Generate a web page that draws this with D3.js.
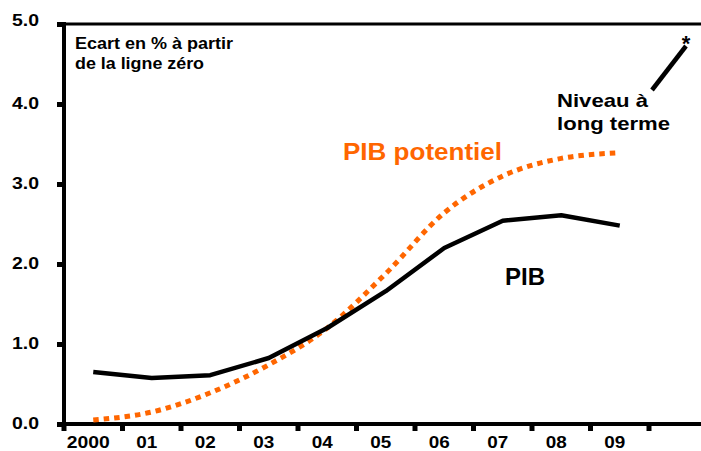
<!DOCTYPE html>
<html>
<head>
<meta charset="utf-8">
<script src="https://cdn.jsdelivr.net/npm/d3@7"></script>
<style>
  html, body { margin: 0; padding: 0; background: #fff; }
  svg { display: block; }
  text { font-family: "Liberation Sans", Arial, Helvetica, sans-serif; font-weight: bold; }
</style>
</head>
<body>
<script>
// ---- data ----
const years = ["2000", "01", "02", "03", "04", "05", "06", "07", "08", "09"];
const pib = [0.65, 0.575, 0.61, 0.825, 1.2, 1.66, 2.2, 2.54, 2.61, 2.48];
const pibPotentiel = [0.05, 0.15, 0.39, 0.74, 1.2, 1.88, 2.64, 3.1, 3.32, 3.39];
const yTicks = [0, 1, 2, 3, 4, 5];
const yTickLabels = ["0.0", "1.0", "2.0", "3.0", "4.0", "5.0"];

// ---- layout ----
const W = 701, H = 451;
const plotLeft = 64, plotTop = 24, plotBottom = 424;
const step = 58.5;
const orange = "#ff6600";

const svg = d3.select("body").append("svg").attr("width", W).attr("height", H);
svg.append("rect").attr("width", W).attr("height", H).attr("fill", "#fff");

const xDomain = years.concat([""]);
const x = d3.scaleBand().domain(xDomain).range([plotLeft, plotLeft + step * xDomain.length]).padding(0);
const y = d3.scaleLinear().domain([0, 5]).range([plotBottom, plotTop]);

// top border
svg.append("line").attr("x1", plotLeft - 2).attr("x2", W).attr("y1", y(5)).attr("y2", y(5))
  .attr("stroke", "#000").attr("stroke-width", 3);

// y axis
const yAxis = d3.axisLeft(y).tickValues(yTicks).tickSize(7)
  .tickFormat((d, i) => yTickLabels[i]);
const gy = svg.append("g").attr("transform", `translate(${plotLeft},0)`).call(yAxis);
gy.select(".domain").remove();
gy.selectAll(".tick line").attr("stroke", "#000").attr("stroke-width", 5);
gy.selectAll(".tick text")
  .attr("x", -25).attr("dy", null).attr("y", d => d === 5 ? 1 : 4)
  .attr("fill", "#000").attr("font-size", 16)
  .attr("font-family", "Liberation Sans, Arial, sans-serif").attr("font-weight", "bold")
  .attr("text-anchor", "end")
  .attr("textLength", 27).attr("lengthAdjust", "spacingAndGlyphs");
svg.append("line").attr("x1", plotLeft).attr("x2", plotLeft).attr("y1", plotTop - 2).attr("y2", plotBottom + 2)
  .attr("stroke", "#000").attr("stroke-width", 4);

// x axis: labels at band centres
const xAxis = d3.axisBottom(x).tickValues(years).tickSize(0);
const gx = svg.append("g").attr("transform", `translate(0,${plotBottom})`).call(xAxis);
gx.select(".domain").remove();
gx.selectAll(".tick text")
  .attr("y", 24).attr("dy", null).attr("dx", -5)
  .attr("fill", "#000").attr("font-size", 16)
  .attr("font-family", "Liberation Sans, Arial, sans-serif").attr("font-weight", "bold")
  .attr("textLength", d => d.length === 4 ? 43 : 21).attr("lengthAdjust", "spacingAndGlyphs");
// x tick marks at band boundaries
svg.append("g").selectAll("line").data(xDomain).join("line")
  .attr("x1", d => x(d)).attr("x2", d => x(d))
  .attr("y1", plotBottom).attr("y2", plotBottom + 7)
  .attr("stroke", "#000").attr("stroke-width", 5);
svg.append("line").attr("x1", plotLeft - 2).attr("x2", W).attr("y1", plotBottom).attr("y2", plotBottom)
  .attr("stroke", "#000").attr("stroke-width", 4);

const cx = d => x(d) + x.bandwidth() / 2;

// PIB potentiel (orange dotted, smooth)
const lineSmooth = d3.line().x((d, i) => cx(years[i])).y(d => y(d)).curve(d3.curveMonotoneX);
svg.append("path").datum(pibPotentiel).attr("d", lineSmooth)
  .attr("fill", "none").attr("stroke", orange).attr("stroke-width", 5)
  .attr("stroke-dasharray", "5.5,5");

// PIB (black solid)
const lineStraight = d3.line().x((d, i) => cx(years[i])).y(d => y(d));
svg.append("path").datum(pib).attr("d", lineStraight)
  .attr("fill", "none").attr("stroke", "#000").attr("stroke-width", 4.5)
  .attr("stroke-linejoin", "round");

// ---- annotations ----
function label(txt, xx, yy, size, len, color) {
  svg.append("text").attr("x", xx).attr("y", yy).attr("font-size", size)
    .attr("fill", color || "#000").attr("textLength", len).attr("lengthAdjust", "spacingAndGlyphs")
    .text(txt);
}
label("Ecart en % à partir", 75, 49, 16, 158);
label("de la ligne zéro", 75, 69, 16, 129);
label("PIB potentiel", 343, 160, 23, 159, orange);
label("PIB", 505, 285, 24, 40);
label("Niveau à", 557, 107, 19, 91);
label("long terme", 557, 130, 19, 113);

svg.append("line").attr("x1", 652).attr("y1", 90).attr("x2", 686).attr("y2", 46)
  .attr("stroke", "#000").attr("stroke-width", 4.5);
svg.append("text").attr("x", 686).attr("y", 51).attr("text-anchor", "middle")
  .attr("font-size", 22).attr("fill", "#000").text("*");
</script>
</body>
</html>
